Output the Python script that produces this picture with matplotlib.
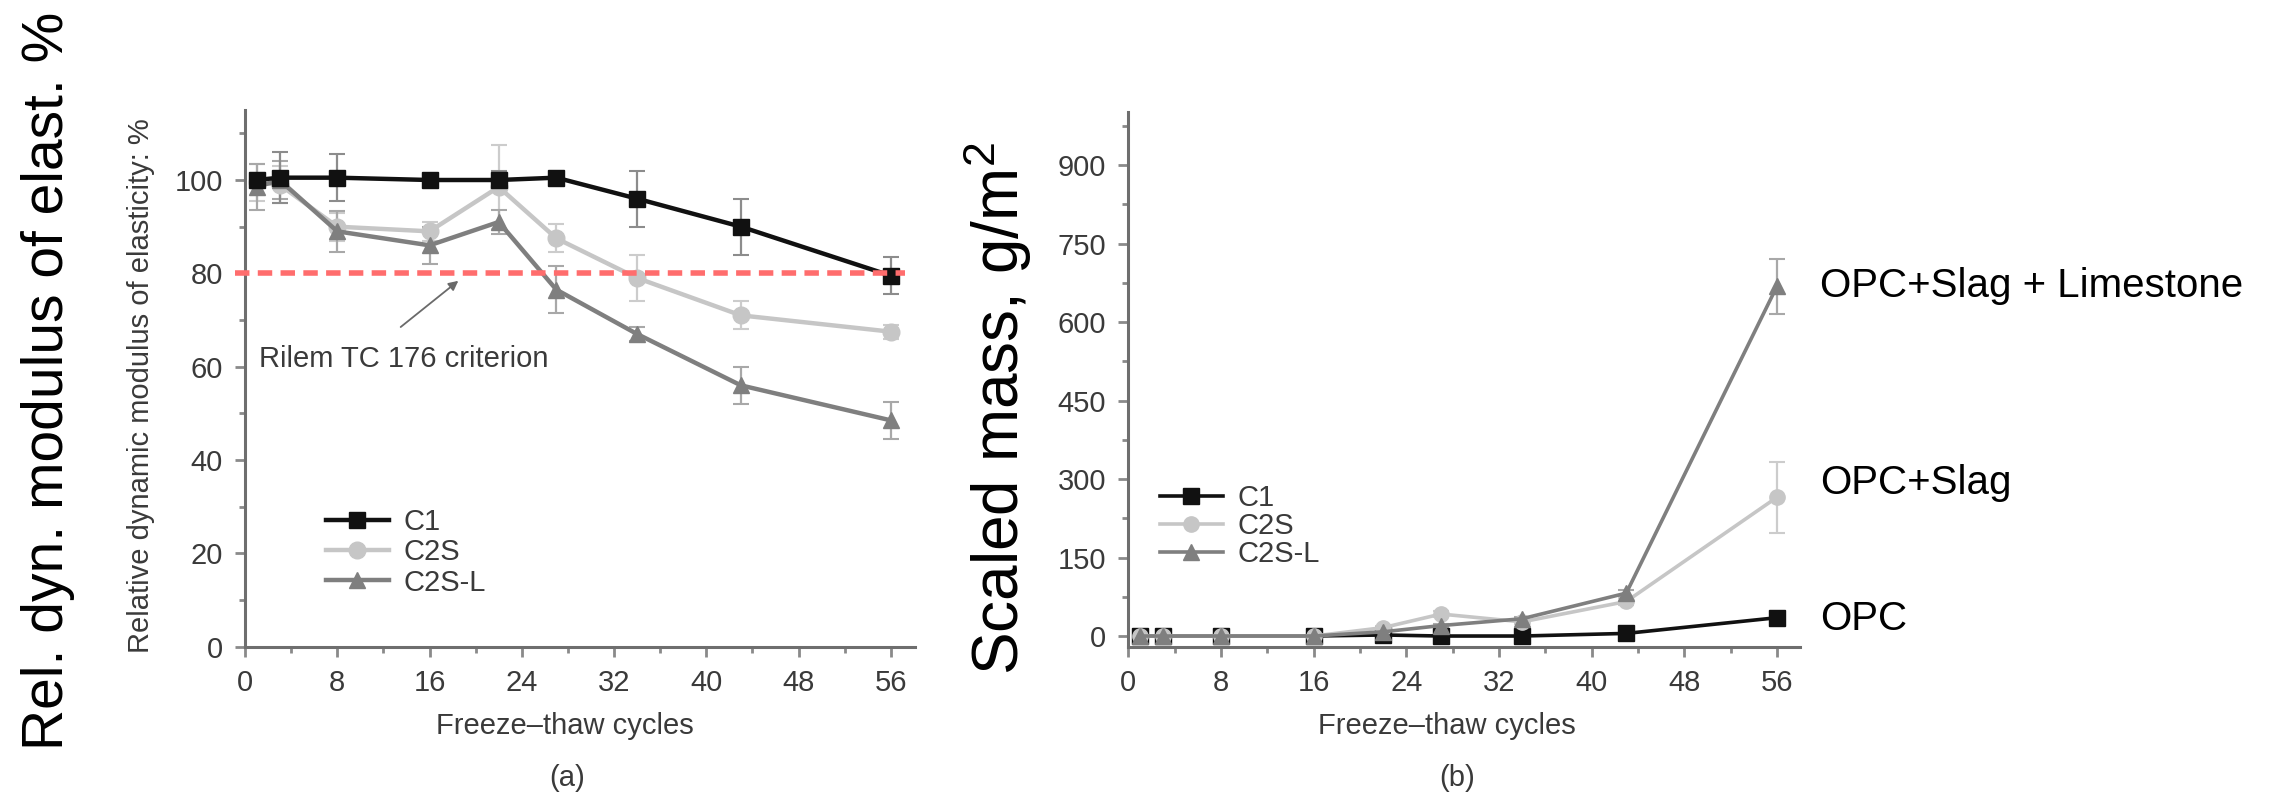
import matplotlib
matplotlib.use("Agg")
import matplotlib.pyplot as plt
from matplotlib.ticker import MultipleLocator

# ---- data -----------------------------------------------------------------
CYCLES = [1, 3, 8, 16, 22, 27, 34, 43, 56]

# (a) relative dynamic modulus of elasticity, %
C1_E = [100.0, 100.5, 100.5, 100.0, 100.0, 100.5, 96.0, 90.0, 79.5]
C1_E_ERR = [1.5, 5.5, 5.0, 1.0, 2.0, 1.0, 6.0, 6.0, 4.0]
C2S_E = [99.5, 99.0, 90.0, 89.0, 98.5, 87.5, 79.0, 71.0, 67.5]
C2S_E_ERR = [4.0, 4.0, 3.0, 2.0, 9.0, 3.0, 5.0, 3.0, 1.5]
C2SL_E = [98.5, 100.0, 89.0, 86.0, 91.0, 76.5, 67.0, 56.0, 48.5]
C2SL_E_ERR = [5.0, 4.0, 4.4, 4.0, 2.5, 5.0, 1.5, 4.0, 4.0]
CRITERION = 80

# (b) scaled mass, g/m2
C1_M = [0, 0, 0, 0, 2, 0, 0, 5, 35]
C1_M_ERR = [0, 0, 0, 0, 0, 0, 0, 3, 8]
C2S_M = [0, 0, 0, 0, 16, 42, 27, 66, 265]
C2S_M_ERR = [0, 0, 0, 0, 3, 5, 4, 6, 68]
C2SL_M = [0, 0, 0, 0, 8, 20, 33, 82, 668]
C2SL_M_ERR = [0, 0, 0, 0, 2, 3, 4, 6, 52]

SERIES = ["C1", "C2S", "C2S-L"]
MARKERS = {"C1": "s", "C2S": "o", "C2S-L": "^"}
LCOL = {"C1": "#111111", "C2S": "#c6c6c6", "C2S-L": "#7f7f7f"}
ECOL = {"C1": "#8c8c8c", "C2S": "#cccccc", "C2S-L": "#a8a8a8"}
MIX_LABELS = ["OPC+Slag + Limestone", "OPC+Slag", "OPC"]

TXT = "#3a3a3a"
SPINE = "#6e6e6e"
FS = 21

plt.rcParams.update({
    "font.family": ["Liberation Sans", "DejaVu Sans"],
    "mathtext.default": "regular",
})

W, H = 2278, 792
fig = plt.figure(figsize=(W / 100, H / 100), dpi=100)
ax1 = fig.add_axes([245 / W, 1 - 646.7 / H, 670 / W, 536.7 / H])
ax2 = fig.add_axes([1128.3 / W, 1 - 646.7 / H, 671.7 / W, 535 / H])


def style_axes(ax, ymaj, ymin):
    for s in ("top", "right"):
        ax.spines[s].set_visible(False)
    for s in ("left", "bottom"):
        ax.spines[s].set_color(SPINE)
        ax.spines[s].set_linewidth(2.2)
    ax.xaxis.set_major_locator(MultipleLocator(8))
    ax.xaxis.set_minor_locator(MultipleLocator(4))
    ax.yaxis.set_major_locator(MultipleLocator(ymaj))
    ax.yaxis.set_minor_locator(MultipleLocator(ymin))
    ax.tick_params(which="major", direction="out", length=7, width=2,
                   color="#8a8a8a", pad=9, labelsize=FS, labelcolor=TXT)
    ax.tick_params(which="minor", direction="out", length=4.5, width=2,
                   color="#8a8a8a")


def draw(ax, ys, errs, ms, lw, order):
    lines = {}
    for name in order:
        cont = ax.errorbar(CYCLES, ys[name], yerr=errs[name],
                           marker=MARKERS[name], ms=ms, color=LCOL[name],
                           mfc=LCOL[name], mec=LCOL[name], lw=lw,
                           ecolor=ECOL[name], elinewidth=1.6, capsize=6,
                           capthick=1.5, clip_on=False, zorder=3)
        lines[name] = cont.lines[0]
    return lines


def add_legend(ax, lines, x, y, spacing):
    leg = ax.legend([lines[s] for s in SERIES], SERIES, loc="upper left",
                    bbox_to_anchor=(x / W, 1 - y / H),
                    bbox_transform=fig.transFigure, frameon=False,
                    fontsize=FS, handlelength=2.15, handletextpad=0.5,
                    labelspacing=spacing, borderpad=0, borderaxespad=0,
                    numpoints=1)
    for t in leg.get_texts():
        t.set_color(TXT)


# ---- (a) -------------------------------------------------------------------
style_axes(ax1, 20, 10)
ax1.set_xlim(0, 58.1)
ax1.set_ylim(0, 115)
ax1.axhline(CRITERION, xmin=-0.015, xmax=0.985, color="#ff6d6d", lw=4,
            dashes=(2.6, 1.5), clip_on=False, zorder=4)
lines1 = draw(ax1, {"C1": C1_E, "C2S": C2S_E, "C2S-L": C2SL_E},
              {"C1": C1_E_ERR, "C2S": C2S_E_ERR, "C2S-L": C2SL_E_ERR},
              12, 3.2, ["C2S", "C2S-L", "C1"])
ax1.text(1.2, 61.7, "Rilem TC 176 criterion", fontsize=FS, color=TXT,
         ha="left", va="center")
ax1.annotate("", xy=(18.5, 78.4), xytext=(13.5, 68.5),
             arrowprops=dict(arrowstyle="-|>", color="#6a6a6a", lw=1.3,
                             mutation_scale=14, shrinkA=0, shrinkB=0))
ax1.set_ylabel("Relative dynamic modulus of elasticity: %", fontsize=FS,
               color=TXT)
ax1.yaxis.set_label_coords(-0.134, 0.487)
ax1.set_xlabel("Freeze\u2013thaw cycles", fontsize=FS, color=TXT)
ax1.xaxis.set_label_coords(0.478, -0.122)
add_legend(ax1, lines1, 326, 508, 0.08)

# ---- (b) -------------------------------------------------------------------
style_axes(ax2, 150, 75)
ax2.set_xlim(0, 58.0)
ax2.set_ylim(-20.4, 1002)
lines2 = draw(ax2, {"C1": C1_M, "C2S": C2S_M, "C2S-L": C2SL_M},
              {"C1": C1_M_ERR, "C2S": C2S_M_ERR, "C2S-L": C2SL_M_ERR},
              11, 2.6, ["C1", "C2S", "C2S-L"])
ax2.set_xlabel("Freeze\u2013thaw cycles", fontsize=FS, color=TXT)
ax2.xaxis.set_label_coords(0.475, -0.122)
add_legend(ax2, lines2, 1160, 484, 0.0)

# mix labels next to the last point of each series
end_vals = [C2SL_M[-1], C2S_M[-1], C1_M[-1]]
for lab, v, dy in zip(MIX_LABELS, end_vals, [0, 28, -3]):
    ax2.text(59.7, v + dy, lab, fontsize=29, color="black", ha="left",
             va="center", clip_on=False)

# ---- panel captions and big overlay labels --------------------------------
fig.text(567 / W, 1 - 778 / H, "(a)", fontsize=FS, color=TXT,
         ha="center", va="center")
fig.text(1457 / W, 1 - 778 / H, "(b)", fontsize=FS, color=TXT,
         ha="center", va="center")
fig.text(48 / W, 1 - 381 / H, "Rel. dyn. modulus of elast. %", fontsize=41,
         rotation=90, ha="center", va="center", color="black")
fig.text(997 / W, 1 - 409 / H, "Scaled mass, g/m$^2$", fontsize=46,
         rotation=90, ha="center", va="center", color="black")

fig.savefig("out.png", dpi=100, facecolor="white")
